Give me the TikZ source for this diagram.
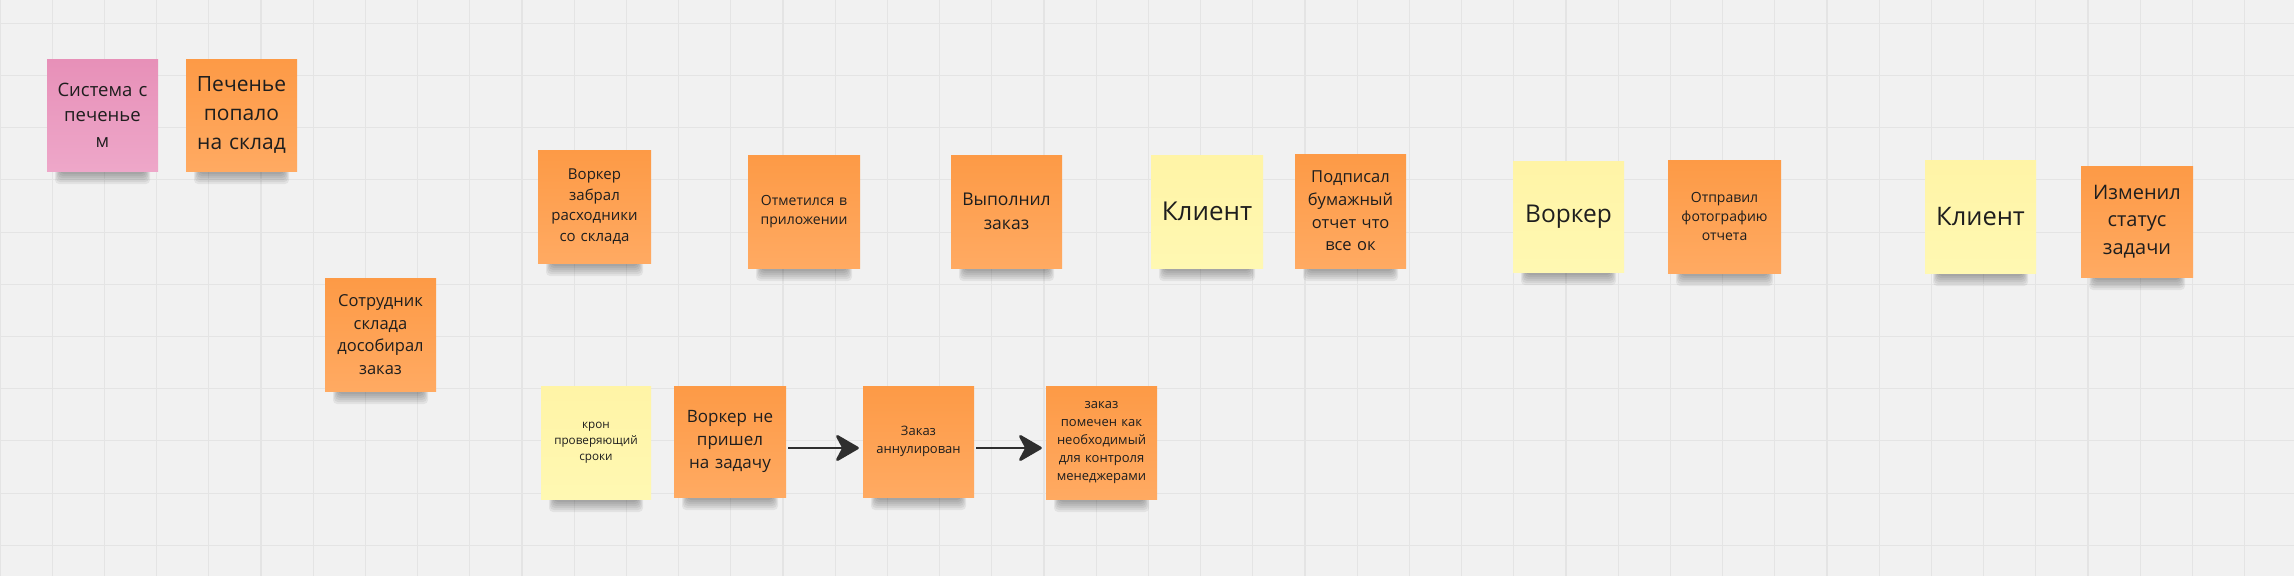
\documentclass[tikz,border=0pt]{standalone}
\usepackage{fontspec}
\setmainfont{Open Sans}
\usetikzlibrary{arrows.meta}
\definecolor{bg}{HTML}{F1F1F1}
\definecolor{gridc}{HTML}{E4E4E4}
\definecolor{orT}{HTML}{FD9A46}
\definecolor{orB}{HTML}{FFAA62}
\definecolor{yeT}{HTML}{FFF4A6}
\definecolor{yeB}{HTML}{FFF8B2}
\definecolor{piT}{HTML}{E790B8}
\definecolor{piB}{HTML}{EEA7C9}
\definecolor{ink}{HTML}{1E1E1E}
\definecolor{arr}{HTML}{2E2E2E}
\tikzset{
  orangenote/.style={top color=orT,bottom color=orB},
  yellownote/.style={top color=yeT,bottom color=yeB},
  pinknote/.style={top color=piT,bottom color=piB},
  flowarrow/.style={draw=arr,line width=2.7pt,
    -{Stealth[length=26pt,width=30pt,inset=8pt,round]},
    shorten <=2pt,shorten >=4pt},
}
% #1 name, #2 x1, #3 y1, #4 x2, #5 y2, #6 style, #7 font size, #8 text
\newcommand\stickynote[8]{%
  \foreach \i in {0,...,5}{%
    \fill[black,opacity=0.06,rounded corners=4pt]
      ({#2+8+\i},{#5-3}) rectangle ({#4-8-\i},{#5+13-2*\i});
  }
  \node[#6,minimum width={#4-#2},minimum height={#5-#3},inner sep=0pt,
        text width=104pt,align=center,text=ink,
        font=\fontsize{#7}{#7}\linespread{1.37}\selectfont]
    (#1) at ({(#2+#4)/2},{(#3+#5)/2}) {#8};
}
\begin{document}
\begin{tikzpicture}[x=1pt,y=-1pt]
\useasboundingbox (0,0) rectangle (2294,576);
\fill[bg] (0,0) rectangle (2294,576);
\foreach \k in {0,...,43}{\draw[gridc,line width=1.1pt] ({\k*52.2},0) -- ({\k*52.2},576);}
\foreach \k in {0,...,10}{\draw[gridc,line width=1.1pt] (0,{23.3+\k*52.2}) -- (2294,{23.3+\k*52.2});}

\stickynote{sys}{47}{59}{158}{171}{pinknote}{18.5}{Система с\\печенье\\м}
\stickynote{cookie}{186}{59}{297}{171}{orangenote}{21}{Печенье\\попало\\на склад}
\stickynote{staff}{325}{278}{436}{391}{orangenote}{16.5}{Сотрудник\\склада\\дособирал\\заказ}
\stickynote{took}{538}{150}{651}{263}{orangenote}{15}{Воркер\\забрал\\расходники\\со склада}
\stickynote{checkin}{748}{155}{860}{268}{orangenote}{14}{Отметился в\\приложении}
\stickynote{done}{951}{155}{1062}{268}{orangenote}{17.5}{Выполнил\\заказ}
\stickynote{clientA}{1151}{155}{1263}{268}{yellownote}{26}{Клиент}
\stickynote{signed}{1295}{154}{1406}{268}{orangenote}{16.5}{Подписал\\бумажный\\отчет что\\все ок}
\stickynote{worker}{1513}{161}{1624}{272}{yellownote}{24.5}{Воркер}
\stickynote{photo}{1668}{160}{1781}{273}{orangenote}{14}{Отправил\\фотографию\\отчета}
\stickynote{clientB}{1925}{160}{2036}{273}{yellownote}{25.5}{Клиент}
\stickynote{changed}{2081}{166}{2193}{277}{orangenote}{20}{Изменил\\статус\\задачи}
\stickynote{cron}{541}{386}{651}{499}{yellownote}{11.7}{крон\\проверяющий\\сроки}
\stickynote{nocome}{674}{386}{786}{497}{orangenote}{17}{Воркер не\\пришел\\на задачу}
\stickynote{cancel}{863}{386}{974}{497}{orangenote}{13}{Заказ\\аннулирован}
\stickynote{flag}{1046}{386}{1157}{499}{orangenote}{13}{заказ\\помечен как\\необходимый\\для контроля\\менеджерами}

\draw[flowarrow] ([yshift=-6.5pt]nocome.east) -- ([yshift=-6.5pt]nocome.east -| cancel.west);
\draw[flowarrow] ([yshift=-6.5pt]cancel.east) -- ([yshift=-6.5pt]cancel.east -| flag.west);
\end{tikzpicture}
\end{document}
